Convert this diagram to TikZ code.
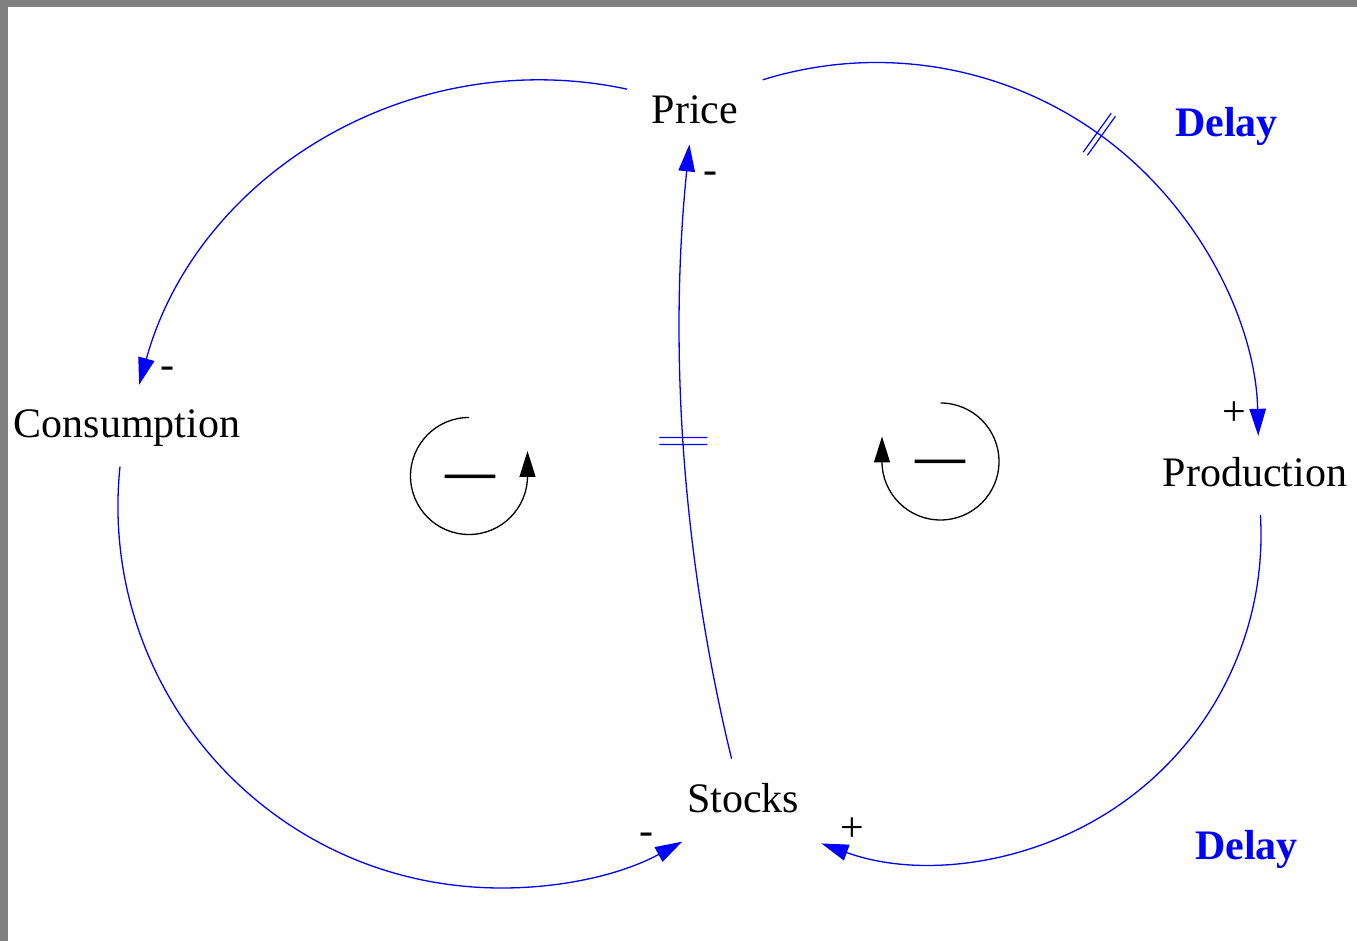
\documentclass[tikz,border=0pt]{standalone}
\usepackage{fontspec}
\setmainfont{Liberation Serif}
\usetikzlibrary{arrows.meta,decorations.markings}
\tikzset{
  lbl/.style={font=\fontsize{42}{50}\selectfont, inner sep=0pt, anchor=base},
  delaylbl/.style={font=\fontsize{42}{50}\selectfont\bfseries, text=blue, inner sep=0pt, anchor=base},
  pol/.style={font=\fontsize{42}{50}\selectfont, inner sep=0pt, anchor=base},
  loopsign/.style={font=\fontsize{50}{60}\selectfont\bfseries, inner sep=0pt, anchor=base},
  link/.style={draw=blue, line width=1.3pt, -{Triangle[length=27pt,width=16.5pt]}},
  loopln/.style={draw=black, line width=1.3pt, -{Triangle[length=26pt,width=16pt]}},
  hatched/.style={postaction={decorate}, decoration={markings,
      mark=at position #1 with {\draw[-, blue, line width=1.2pt] (-2.6,-24) -- (-2.6,24) (2.6,-24) -- (2.6,24);}}},
  hatchedwide/.style={postaction={decorate}, decoration={markings,
      mark=at position #1 with {\draw[-, blue, line width=1.2pt, rotate=-3.5] (-3.5,-24) -- (-3.5,24) (3.5,-24) -- (3.5,24);}}}
}
\begin{document}
\begin{tikzpicture}[x=1pt,y=1pt]
\useasboundingbox (0,0) rectangle (1357,941);
\fill[white] (0,0) rectangle (1357,941);
\fill[gray] (0,934.3) rectangle (1357,941);
\fill[gray] (0,0) rectangle (7.7,941);

% variables
\node[lbl] (Price) at (695,817) {Price};
\node[lbl] (Consumption) at (127,503) {Consumption};
\node[lbl] (Production) at (1255,454) {Production};
\node[lbl] (Stocks) at (743,128) {Stocks};
\node[delaylbl] (Delay1) at (1226.5,804.3) {Delay};
\node[delaylbl] (Delay2) at (1246.5,81) {Delay};

% causal links
\draw[link] ([shift={(-67.8,34.8)}]Price.base) arc[start angle=77.9, end angle=164.5, radius=416];
\draw[link, hatched=0.5] ([shift={(67.8,44.2)}]Price.base) arc[start angle=107.3, end angle=1.3, radius=382];
\draw[link, hatchedwide=0.52] ([shift={(-11.4,54.2)}]Stocks.base) arc[start angle=193.7, end angle=174.15, radius=1814];
\draw[link] ([shift={(-7,-28.7)}]Consumption.base) arc[start angle=174.1, end angle=298.5, radius=382];
\draw[link] ([shift={(5.4,-28)}]Production.base) arc[start angle=3.5, end angle=-109.9, radius=328];

% polarities
\node[pol] (p1) at (167,562) {-};
\node[pol] (p2) at (1234.5,515.9) {+};
\node[pol] (p3) at (710,757.5) {-};
\node[pol] (p4) at (646.5,96.5) {-};
\node[pol] (p5) at (852.5,99.4) {+};

% loop symbols
\coordinate (L1) at (469,465);
\coordinate (L2) at (940.5,479.5);
\draw[loopln] ([shift={(0,58.5)}]L1) arc[start angle=90, end angle=360, radius=58.5] -- ++(0,25);
\draw[loopln] ([shift={(0,58.5)}]L2) arc[start angle=90, end angle=-180, radius=58.5] -- ++(0,25);
\node[loopsign] (s1) at (470,452.7) {—};
\node[loopsign] (s2) at (940.5,467.7) {—};
\end{tikzpicture}
\end{document}
